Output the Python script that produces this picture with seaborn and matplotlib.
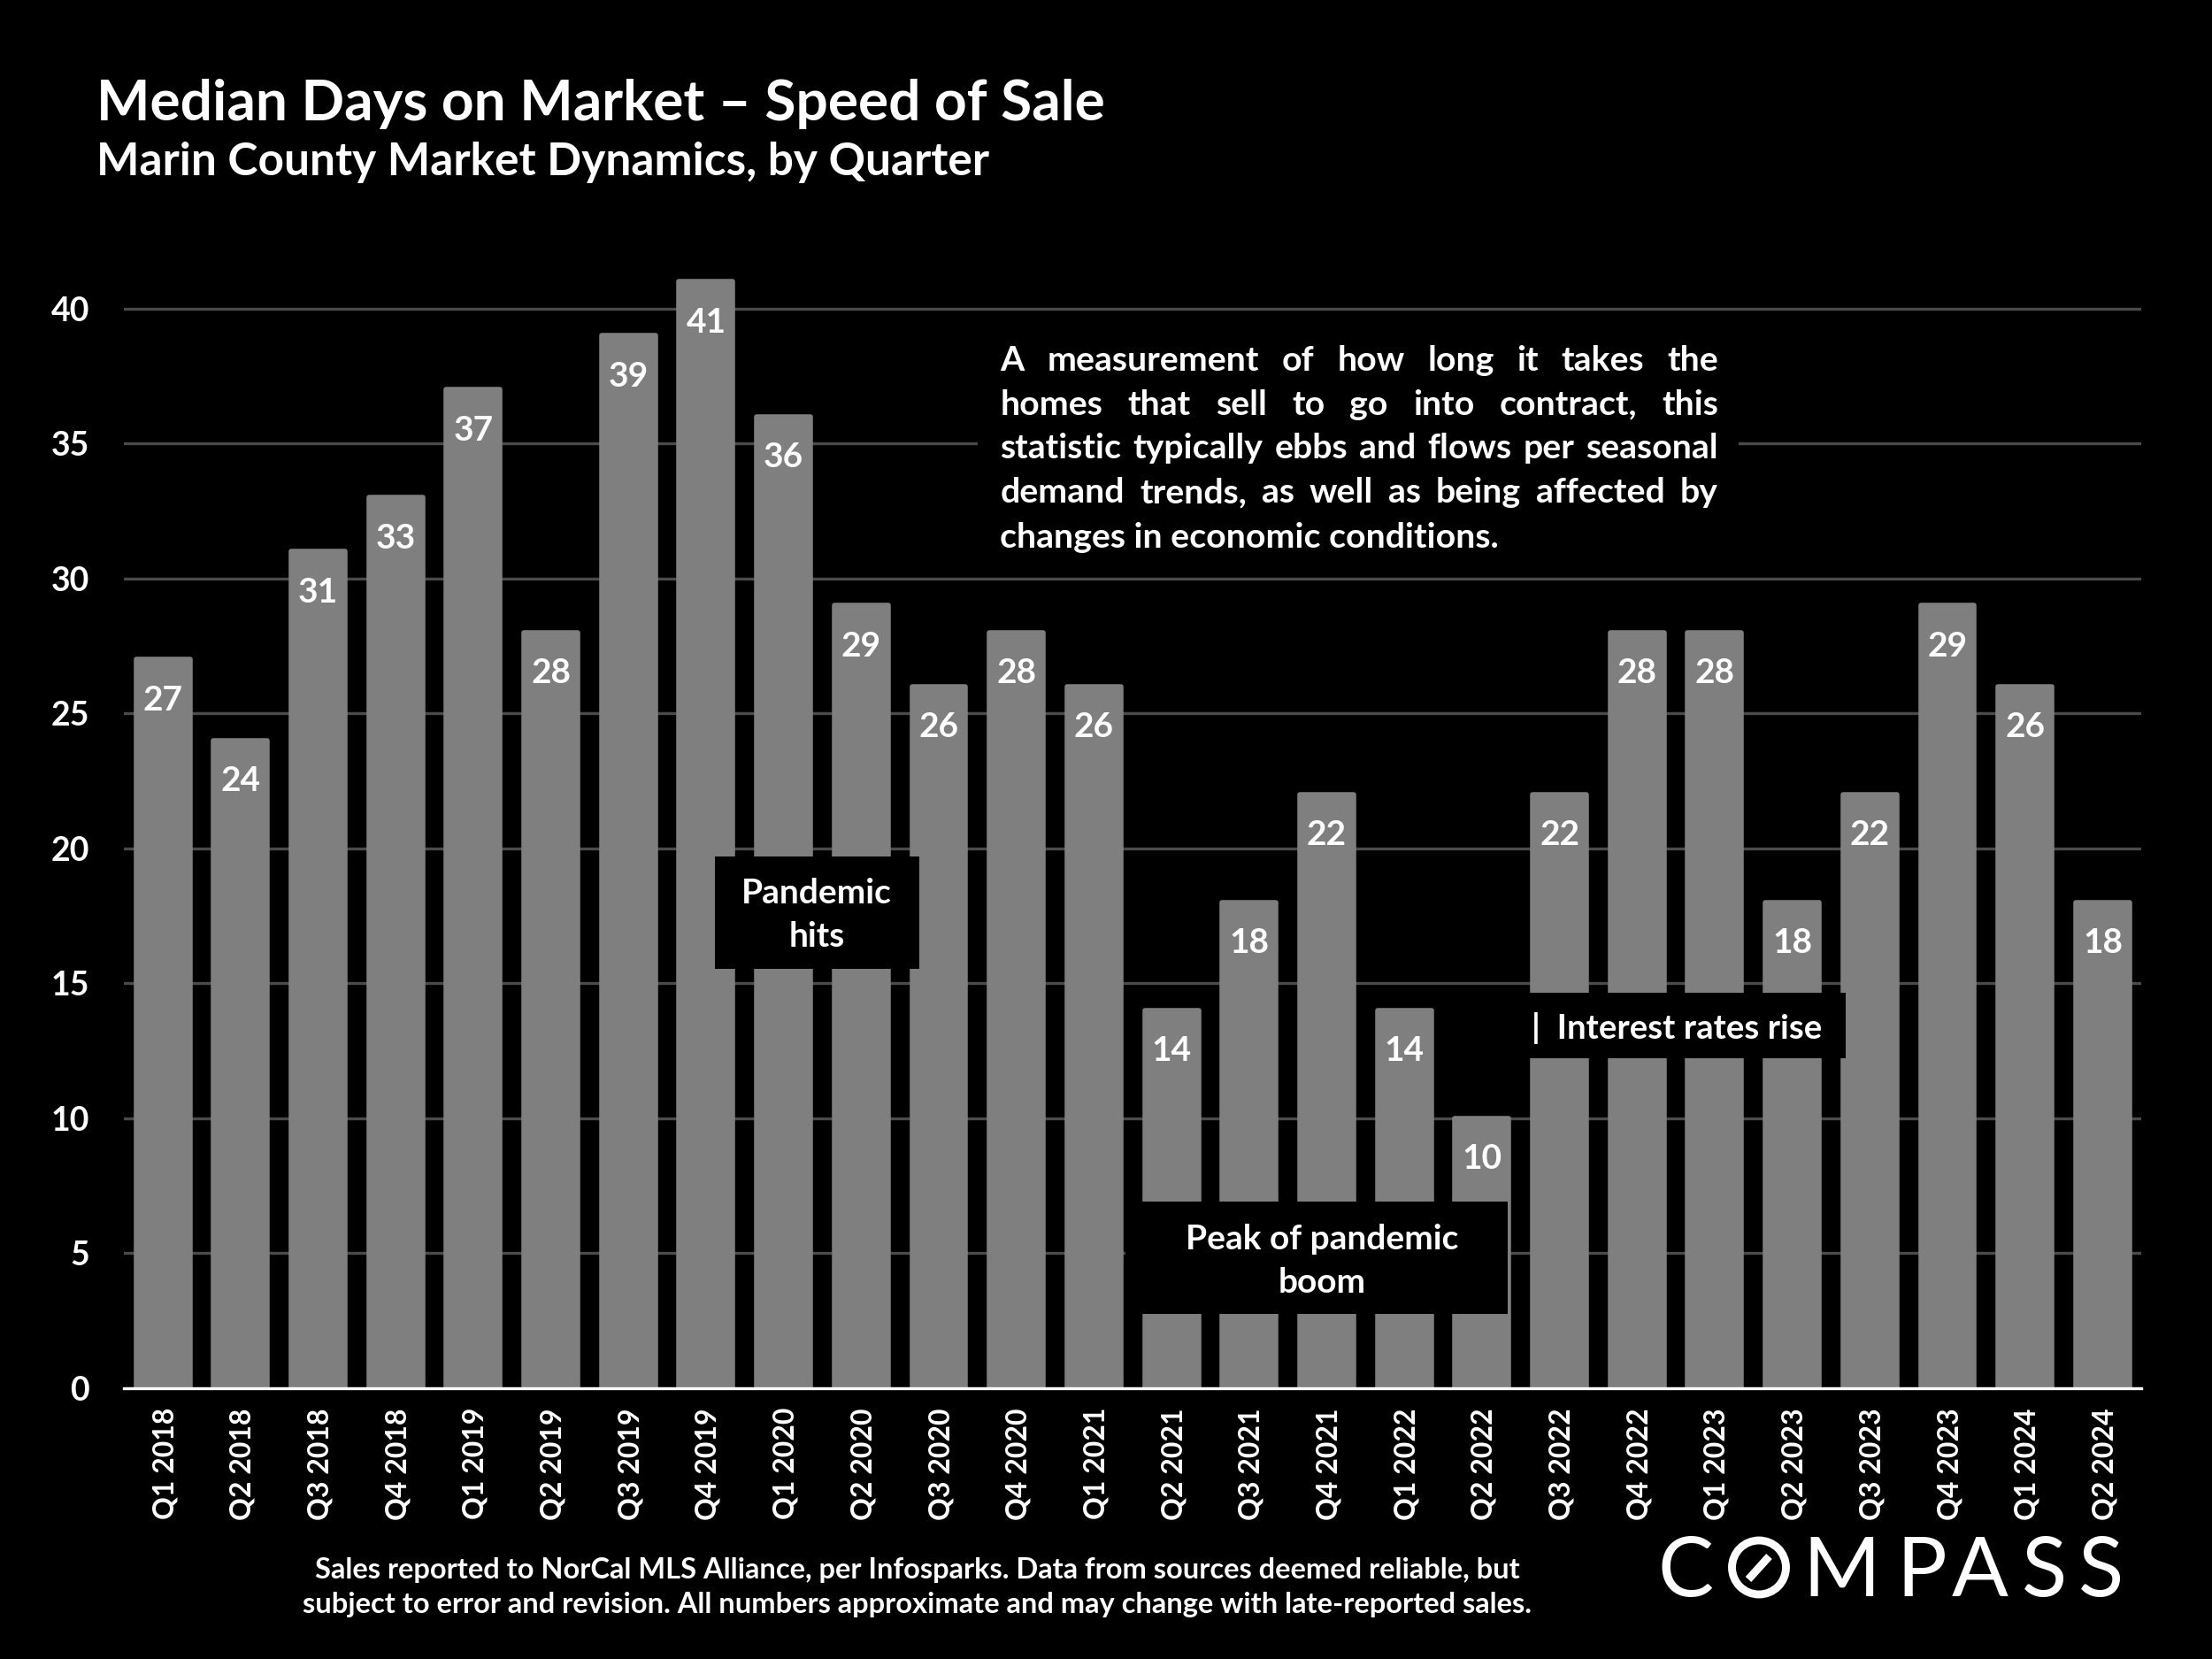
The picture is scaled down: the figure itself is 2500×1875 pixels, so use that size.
# Median days on market chart, dark slide style

import numpy as np
import pandas as pd
import matplotlib
matplotlib.use("Agg")
import matplotlib.pyplot as plt
from matplotlib.patches import Ellipse
from matplotlib.lines import Line2D
import seaborn as sns

quarters = ["Q1 2018", "Q2 2018", "Q3 2018", "Q4 2018", "Q1 2019", "Q2 2019", "Q3 2019", "Q4 2019",
            "Q1 2020", "Q2 2020", "Q3 2020", "Q4 2020", "Q1 2021", "Q2 2021", "Q3 2021", "Q4 2021",
            "Q1 2022", "Q2 2022", "Q3 2022", "Q4 2022", "Q1 2023", "Q2 2023", "Q3 2023", "Q4 2023",
            "Q1 2024", "Q2 2024"]
days = [27, 24, 31, 33, 37, 28, 39, 41, 36, 29, 26, 28, 26, 14, 18, 22, 14, 10, 22, 28, 28, 18, 22, 29, 26, 18]
y_ticks = [0, 5, 10, 15, 20, 25, 30, 35, 40]

sns.set_theme(style="dark")
plt.rcParams["font.family"] = ["Lato", "DejaVu Sans"]
plt.rcParams["font.weight"] = "bold"

df = pd.DataFrame({"quarter": quarters, "days": days})

fig = plt.figure(figsize=(12.5, 9.375), dpi=200, facecolor="black")
ax = fig.add_axes([0.0561, 0.1633, 0.912, 0.675], facecolor="black")

sns.barplot(data=df, x="quarter", y="days", color="#7f7f7f", saturation=1, width=0.695,
            edgecolor="#7f7f7f", linewidth=2.0, ax=ax, zorder=3)
# slightly rounded bar tops, same as the slide
for bar in ax.patches:
    bar.set_joinstyle("round")

ax.set_xlim(-0.5, len(quarters) - 0.5)
ax.set_ylim(0, 41.5)
ax.set_yticks(y_ticks)
ax.set_xlabel("")
ax.set_ylabel("")
for s in ["top", "left", "right"]:
    ax.spines[s].set_visible(False)
ax.spines["bottom"].set_color("white")
ax.spines["bottom"].set_linewidth(1.2)
ax.spines["bottom"].set_zorder(4)
ax.grid(axis="y", color="#4a4a4a", linewidth=1.2, zorder=0)
ax.grid(axis="x", visible=False)
ax.tick_params(axis="y", length=0, colors="white", labelsize=13.5, pad=14)
ax.tick_params(axis="x", length=0, colors="white", labelsize=11.5, pad=8)
for lab in ax.get_xticklabels():
    lab.set(rotation=90, rotation_mode="anchor", ha="right", va="center_baseline")

# value labels inside the bars
for i, v in enumerate(days):
    ax.text(i, v - 1.5, str(v), ha="center", va="center", color="white", fontsize=14, fontweight="bold", zorder=5)

# titles
fig.text(0.0435, 0.9373, "Median Days on Market – Speed of Sale", color="white", fontsize=23.05, fontweight="bold", va="center")
fig.text(0.0435, 0.9023, "Marin County Market Dynamics, by Quarter", color="white", fontsize=18.5, fontweight="bold", va="center")

# explainer box, justified by hand with word spacing
box_lines = [
    ["A", "measurement", "of", "how", "long", "it", "takes", "the"],
    ["homes", "that", "sell", "to", "go", "into", "contract,", "this"],
    ["statistic", "typically", "ebbs", "and", "flows", "per", "seasonal"],
    ["demand", "trends,", "as", "well", "as", "being", "affected", "by"],
]
fig.patches.append(plt.Rectangle((0.442, 0.665), 0.344, 0.13, transform=fig.transFigure, facecolor="black", edgecolor="none", zorder=6))
renderer = fig.canvas.get_renderer()
x0, x1 = 0.4522, 0.7768
line_y = [0.7827, 0.7562, 0.7297, 0.7032]
for words, y in zip(box_lines, line_y):
    items = [fig.text(0, y, w, color="white", fontsize=14.15, fontweight="bold", va="center", zorder=7) for w in words]
    widths = [t.get_window_extent(renderer).width / fig.bbox.width for t in items]
    gap = (x1 - x0 - sum(widths)) / (len(words) - 1)
    x = x0
    for t, w in zip(items, widths):
        t.set_x(x)
        x += w + gap
fig.text(x0, 0.6762, "changes in economic conditions.", color="white", fontsize=14.15, fontweight="bold", va="center", zorder=7)

# annotation boxes
def note(x, y, w, h, txt, xc, yc, ha="center", fs=14):
    fig.patches.append(plt.Rectangle((x, y), w, h, transform=fig.transFigure, facecolor="black", edgecolor="none", zorder=6))
    fig.text(xc, yc, txt, color="white", fontsize=fs, fontweight="bold", ha=ha, va="center", linespacing=1.5, zorder=7)

note(0.3233, 0.416, 0.0921, 0.0675, "Pandemic\nhits", 0.3693, 0.4485)
note(0.5089, 0.208, 0.1725, 0.0675, "Peak of pandemic\nboom", 0.5975, 0.24)
note(0.6888, 0.362, 0.1455, 0.0395, "|  Interest rates rise", 0.6925, 0.3805, ha="left", fs=13.8)

# footnote
fig.text(0.4148, 0.043, "Sales reported to NorCal MLS Alliance, per Infosparks. Data from sources deemed reliable, but\n"
         "subject to error and revision. All numbers approximate and may change with late-reported sales.",
         color="white", fontsize=11.75, fontweight="bold", ha="center", va="center", linespacing=1.42)

# logo, letters placed one at a time (centres in px of the 2500 wide image)
W, H = 2500.0, 1875.0
for ch, px in [("C", 1905), ("M", 2081), ("P", 2172), ("A", 2238), ("S", 2311), ("S", 2375)]:
    fig.text(px / W, 1 - 1804 / H, ch, color="white", fontsize=34, fontweight="normal", ha="center", va="baseline")
fig.add_artist(Ellipse((1988 / W, 1 - 1771.5 / H), 61 / W, 61 / H, transform=fig.transFigure,
                       facecolor="none", edgecolor="white", linewidth=3.2))
fig.add_artist(Line2D([1976 / W, 1999.5 / W], [1 - 1785 / H, 1 - 1759 / H], transform=fig.transFigure,
                      color="white", linewidth=3.2, solid_capstyle="butt"))

fig.savefig("out.png", dpi=200, facecolor="black")
